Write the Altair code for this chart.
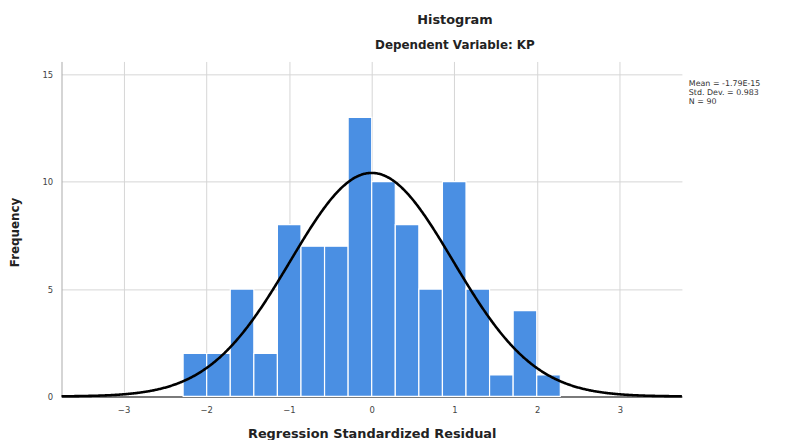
import altair as alt
import pandas as pd

# ---- data ----
bin_edges = [-2.28, -1.995, -1.71, -1.425, -1.14, -0.855, -0.57, -0.285, 0.0,
             0.285, 0.57, 0.855, 1.14, 1.425, 1.71, 1.995, 2.28]
counts = [2, 2, 5, 2, 8, 7, 7, 13, 10, 8, 5, 10, 5, 1, 4, 1]
stat_lines = ["Mean = -1.79E-15", "Std. Dev. = 0.983", "N = 90"]
mean_val = 0.0
sd_val = 0.983
n_val = 90
bin_width = 0.285
x_ticks = [-3, -2, -1, 0, 1, 2, 3]
y_ticks = [0, 5, 10, 15]

bars_df = pd.DataFrame({
    "start": bin_edges[:-1],
    "end": bin_edges[1:],
    "count": counts,
})
stats_df = pd.DataFrame({"label": ["\n".join(stat_lines)]})

FONT = "DejaVu Sans"
W, H = 626, 338
xscale = alt.Scale(domain=[-3.75, 3.75], nice=False, zero=False)
yscale = alt.Scale(domain=[0, 15.6], nice=False)

xaxis = alt.Axis(values=x_ticks, format="d", title="Regression Standardized Residual",
                 grid=True, ticks=False, labelPadding=9, labelFontSize=8.5,
                 labelColor="#444444", labelFont=FONT,
                 titleFont=FONT, titleFontSize=13, titleFontWeight="bold",
                 titleColor="#222222", titleY=37, titleBaseline="middle",
                 domainColor="#555555", domainWidth=1.5)
yaxis = alt.Axis(values=y_ticks, format="d", title="Frequency", grid=True, ticks=False,
                 labelPadding=9, labelFontSize=8.5, labelColor="#444444",
                 labelFont=FONT, titleFont=FONT, titleFontSize=12,
                 titleFontWeight="bold", titleColor="#222222",
                 titleX=-47, titleY=172, titleBaseline="middle",
                 domainColor="#aaaaaa")

bars = alt.Chart(bars_df).mark_bar(
    color="#4a8fe3", stroke="white", strokeWidth=1.2
).encode(
    x=alt.X("start:Q", scale=xscale, axis=xaxis),
    x2="end:Q",
    y=alt.Y("count:Q", scale=yscale, axis=yaxis),
    y2=alt.datum(0),
)

curve = alt.Chart(alt.sequence(-3.75, 3.751, 0.01, as_="x")).transform_calculate(
    y=f"{n_val}*{bin_width}/({sd_val}*sqrt(2*PI))*exp(-0.5*pow((datum.x-{mean_val})/{sd_val},2))"
).mark_line(color="black", strokeWidth=2.6).encode(
    x=alt.X("x:Q", scale=xscale),
    y=alt.Y("y:Q", scale=yscale),
)

stats = alt.Chart(stats_df).mark_text(
    align="left", baseline="top", font=FONT, fontSize=8, lineHeight=9,
    lineBreak="\n", color="#333333"
).encode(
    x=alt.value(W + 7), y=alt.value(19), text="label:N"
)

chart = alt.layer(bars, curve, stats).properties(
    width=W, height=H,
    title=alt.TitleParams(
        text="Histogram", subtitle="Dependent Variable: KP",
        anchor="middle", dx=84, offset=11, font=FONT, fontSize=13,
        fontWeight="bold", color="#222222", subtitleFont=FONT,
        subtitleFontSize=12, subtitleFontWeight="bold",
        subtitleColor="#222222", subtitlePadding=13,
    ),
    autosize=alt.AutoSizeParams(type="none"),
    padding={"left": 54, "top": 52, "right": 100, "bottom": 42},
).configure_view(stroke=None).configure_axis(
    gridColor="#d6d6d6", gridWidth=1
)

chart.save("out.html", embed_options={"renderer": "svg", "actions": False})
